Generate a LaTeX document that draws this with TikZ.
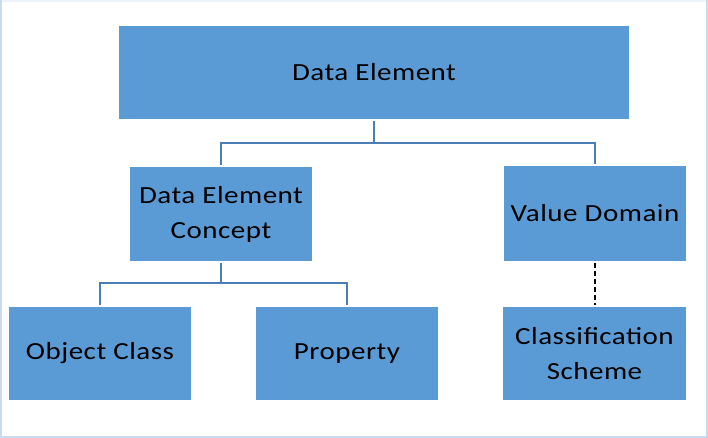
\documentclass[tikz,border=0pt]{standalone}
\usepackage{fontspec}
\setmainfont{Carlito}[FakeStretch=1.18,LetterSpace=2]
\definecolor{boxblue}{HTML}{5B9BD5}
\definecolor{linkblue}{HTML}{4A7EB5}
\definecolor{frameblue}{HTML}{C8DBEF}
\definecolor{frametop}{HTML}{EEF3FA}
\begin{document}
\begin{tikzpicture}[x=1pt,y=-1pt,
  blk/.style={fill=boxblue,draw=none,inner sep=0pt,align=center,
    font=\fontsize{24.6}{35}\selectfont,text=black},
  link/.style={draw=linkblue,line width=2pt},
  dlink/.style={draw=black,line width=2pt,dash pattern=on 5pt off 3pt}]
\useasboundingbox (0,0) rectangle (708,438);
\fill[white] (0,0) rectangle (708,438);
\draw[frametop,line width=2.5pt] (0,1.2) -- (708,1.2);
\draw[frameblue,line width=2.5pt] (1.2,0) -- (1.2,436.8) -- (706.8,436.8) -- (706.8,0);

\node[blk,minimum width=510pt,minimum height=93pt] (de) at (374,72.5) {Data Element};
\node[blk,minimum width=182pt,minimum height=94pt] (dec) at (221,214) {Data Element\\Concept};
\node[blk,minimum width=182pt,minimum height=94pt] (vd) at (595,213.5) {Value Domain};
\node[blk,minimum width=182pt,minimum height=93pt] (oc) at (100,353.5) {Object Class};
\node[blk,minimum width=182pt,minimum height=93pt] (pr) at (347,353.5) {Property};
\node[blk,minimum width=183pt,minimum height=93pt] (cs) at (594.5,353.5) {Classification\\Scheme};

\coordinate (j1) at (374,143);
\coordinate (j2) at (221,283);
\draw[link] ([yshift=-2pt]de.south) -- (j1);
\draw[link] ([yshift=2pt]dec.north) |- (j1) -| ([yshift=2pt]vd.north);
\draw[link] ([yshift=-2pt]dec.south) -- (j2);
\draw[link] ([yshift=2pt]oc.north) |- (j2) -| ([yshift=2pt]pr.north);
\draw[dlink] ([yshift=-2pt]vd.south) -- ([yshift=2pt,xshift=0.5pt]cs.north);
\end{tikzpicture}
\end{document}
